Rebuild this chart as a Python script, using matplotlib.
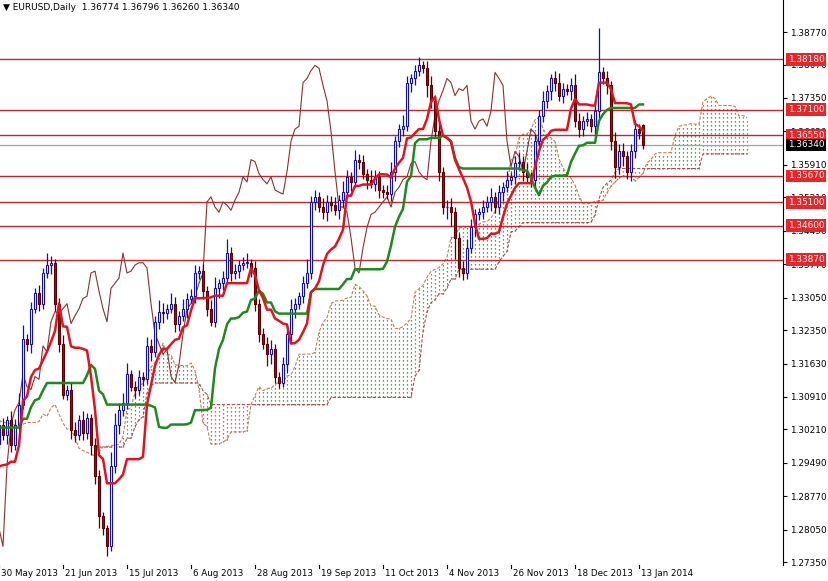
import numpy as np
import matplotlib
matplotlib.use("Agg")
import matplotlib.pyplot as plt

# bars before the first visible bar (off-screen, they feed the indicators)
pre_closes = [1.2950,1.2980,1.2930,1.2870,1.2900,1.2960,1.2990,1.2880,1.2850,1.2820,
1.2780,1.2840,1.2850,1.2930,1.3000,1.3060,1.3100,1.3130,1.3080,1.3050,
1.3120,1.3180,1.3080,1.3040,1.3020,1.3100,1.3060,1.3000,1.2990,1.3040,
1.3100,1.3170,1.3190,1.3130,1.3110,1.3160,1.3080,1.3000,1.2960,1.2980,
1.2960,1.2920,1.2890,1.2870,1.2900,1.2940,1.2920,1.2860,1.2890,1.2930,
1.2950,1.2990]
pre_wick_pips = [15,20,12,18,25,10,15,20,12,18,22,15,10,20,18,12,25,15,20,10,
18,22,12,15,20,10,18,15,12,20,25,15,10,18,20,12,15,22,10,18,
15,20,12,18,10,15,20,12,18,15,10,12]

closes = [1.3031,1.3009,1.3041,1.2987,1.3031,1.3074,1.3216,1.3205,1.3281,1.3314,
1.3292,1.3358,1.3375,1.3380,1.3292,1.3205,1.3096,1.3107,1.3020,1.3009,
1.3041,1.3013,1.3046,1.2987,1.2921,1.2834,1.2808,1.2769,1.2943,1.3031,
1.3063,1.3079,1.3140,1.3113,1.3107,1.3135,1.3129,1.3201,1.3188,1.3253,
1.3275,1.3271,1.3281,1.3292,1.3249,1.3266,1.3281,1.3303,1.3308,1.3358,
1.3362,1.3319,1.3281,1.3253,1.3325,1.3336,1.3347,1.3401,1.3358,1.3362,
1.3375,1.3380,1.3380,1.3369,1.3292,1.3227,1.3205,1.3183,1.3194,1.3135,
1.3122,1.3161,1.3227,1.3281,1.3292,1.3308,1.3336,1.3358,1.3511,1.3522,
1.3500,1.3489,1.3511,1.3504,1.3493,1.3515,1.3532,1.3565,1.3554,1.3602,
1.3598,1.3572,1.3559,1.3550,1.3565,1.3537,1.3532,1.3528,1.3576,1.3642,
1.3668,1.3674,1.3768,1.3777,1.3794,1.3805,1.3799,1.3762,1.3729,1.3663,
1.3576,1.3500,1.3500,1.3489,1.3434,1.3369,1.3358,1.3412,1.3456,1.3484,
1.3489,1.3500,1.3511,1.3522,1.3500,1.3532,1.3543,1.3559,1.3565,1.3594,
1.3598,1.3576,1.3565,1.3559,1.3642,1.3696,1.3729,1.3751,1.3777,1.3768,
1.3740,1.3755,1.3751,1.3762,1.3685,1.3668,1.3685,1.3690,1.3674,1.3707,
1.3790,1.3777,1.3762,1.3642,1.3587,1.3620,1.3609,1.3576,1.3620,1.3668,
1.3659,1.3634]
last_open = 1.36774
wick_up_pips = [10,15,8,20,12,25,30,10,15,12,
18,10,25,15,8,12,20,10,15,18,
12,20,10,8,15,12,10,8,30,25,
15,20,25,10,12,15,10,20,15,12,
25,18,10,22,15,10,20,12,15,18,
10,15,12,18,25,10,15,30,12,15,
10,12,20,8,15,10,12,15,20,12,
10,15,10,20,12,10,15,30,12,15,
10,20,15,12,18,10,25,15,10,20,
12,15,10,20,15,12,10,15,20,12,
10,25,15,10,12,18,10,15,20,12,
18,10,15,20,12,10,15,20,18,12,
10,15,12,20,10,15,12,18,10,15,
20,12,18,10,15,12,20,12,10,15,
20,12,10,15,25,18,12,15,10,20,
96,12,15,10,20,15,18,12,15,20,
10,2]
wick_dn_pips = [12,10,20,15,10,12,8,15,20,10,
15,12,10,20,15,18,10,12,20,15,
10,15,12,20,18,25,15,20,10,15,
20,12,15,10,18,12,15,10,20,12,
15,20,12,10,18,15,12,20,10,15,
12,18,15,10,12,20,15,10,18,12,
15,10,12,20,15,18,10,25,20,15,
12,10,18,15,20,12,15,10,12,18,
10,15,20,12,10,18,15,12,20,10,
15,12,20,10,15,18,12,10,15,20,
12,15,10,20,15,12,10,25,15,12,
20,15,25,30,45,20,15,12,10,18,
12,15,10,20,12,15,18,10,12,15,
10,20,12,15,18,10,12,15,20,18,
12,15,10,20,12,18,15,10,12,20,
15,12,18,20,25,15,20,15,20,15,
12,8]
levels = [1.3818, 1.3710, 1.3655, 1.3567, 1.3510, 1.3460, 1.3387]
last_price = 1.3634
ytick_vals = [1.38770,1.38070,1.37350,1.36630,1.35910,1.35210,1.34490,1.33770,
              1.33050,1.32350,1.31630,1.30910,1.30210,1.29490,1.28770,1.28050,1.27350]
date_labels = ['30 May 2013','21 Jun 2013','15 Jul 2013','6 Aug 2013','28 Aug 2013',
               '19 Sep 2013','11 Oct 2013','4 Nov 2013','26 Nov 2013','18 Dec 2013','13 Jan 2014']
date_idx = [0,16,32,48,64,80,96,112,128,144,160]

npre = len(pre_closes)
allc = pre_closes + closes
N = len(allc)
C = np.array(allc)
O = np.concatenate([[pre_closes[0]], C[:-1]]); O[-1] = last_open
wu = np.array(pre_wick_pips + wick_up_pips) * 1e-4
wd = np.array(pre_wick_pips + wick_dn_pips) * 1e-4
H = np.maximum(O, C) + wu
L = np.minimum(O, C) - wd
X = np.arange(N) - npre   # visible bars start at 0

def mid(period):
    out = np.full(N, np.nan)
    for i in range(period - 1, N):
        out[i] = (H[i-period+1:i+1].max() + L[i-period+1:i+1].min()) / 2
    return out
tenkan = mid(9); kijun = mid(26); sb = mid(52)
sa = (tenkan + kijun) / 2

W, Hh = 829, 581
fig = plt.figure(figsize=(W/100, Hh/100), dpi=100)
ax = fig.add_axes([0, 16/Hh, 783/W, 565/Hh])
ax.set_xlim(1 / 4, 784 / 4)
ax.set_ylim(1.2729, 1.3946)

# cloud (shifted 26 bars forward)
xc = X + 26
for j in range(N):
    a, b = sa[j], sb[j]
    if np.isnan(a) or np.isnan(b):
        continue
    col = '#2a7a2a' if a >= b else '#d03030'
    ax.vlines(xc[j], min(a, b), max(a, b), colors=col, linestyles=(0, (1, 2.2)), lw=0.9, zorder=1)
ax.plot(xc, sa, color='#c08050', lw=0.8, ls=(0, (3, 1.5)), zorder=2)
ax.plot(xc, sb, color='#a05050', lw=0.8, ls=(0, (3, 1.5)), zorder=2)

for lv in levels:
    ax.axhline(lv, color='#c0282d', lw=1.0, zorder=2)
ax.axhline(last_price, color='#9aa4a8', lw=0.9, zorder=2)

# chikou
ax.plot(X - 26, C, color='#8b3030', lw=0.8, zorder=3)

# candles (visible only)
for k in range(npre, N):
    i = X[k]
    upc = C[k] >= O[k]
    col = '#1010b0' if upc else '#5a0000'
    ax.vlines(i, L[k], H[k], colors=col, lw=0.9, zorder=4)
    bot, top = min(O[k], C[k]), max(O[k], C[k])
    ax.bar(i, max(top - bot, 0.00008), bottom=bot, width=0.55,
           color='white' if upc else '#8b1a1a', edgecolor=col, lw=0.8, zorder=5)

ax.plot(X, kijun, color='#1e8a1e', lw=1.8, zorder=6)
ax.plot(X, tenkan, color='#e0141e', lw=1.8, zorder=7)

for s in ['top', 'left', 'bottom']:
    ax.spines[s].set_visible(False)
ax.spines['right'].set_color('black')
ax.yaxis.tick_right()
ax.set_yticks(ytick_vals)
ax.set_yticklabels(['%.5f' % v for v in ytick_vals], fontsize=6.4)
ax.tick_params(axis='y', length=3, pad=2, colors='black')
ax.set_xticks([])
for di, lab in zip(date_idx, date_labels):
    ax.plot([di, di], [1.2729, 1.2729 - 0.0006], color='black', lw=0.8, clip_on=False)
    ax.text(di + 0.4, 1.2729 - 0.0009, lab, fontsize=6.3, ha='left', va='top', clip_on=False)

for lv in levels:
    ax.text(1.006, lv, '%.5f' % lv, transform=ax.get_yaxis_transform(), fontsize=6.4,
            color='white', ha='left', va='center',
            bbox=dict(boxstyle='square,pad=0.2', fc='#e8262a', ec='none'), zorder=10)
ax.text(1.006, last_price, '%.5f' % last_price, transform=ax.get_yaxis_transform(), fontsize=6.4,
        color='white', ha='left', va='center',
        bbox=dict(boxstyle='square,pad=0.2', fc='black', ec='none'), zorder=10)

ax.text(0.004, 0.995, '\u25bc EURUSD,Daily  1.36774 1.36796 1.36260 1.36340', transform=ax.transAxes,
        fontsize=6.5, va='top', ha='left')
fig.savefig('out.png', dpi=100, facecolor='white')
